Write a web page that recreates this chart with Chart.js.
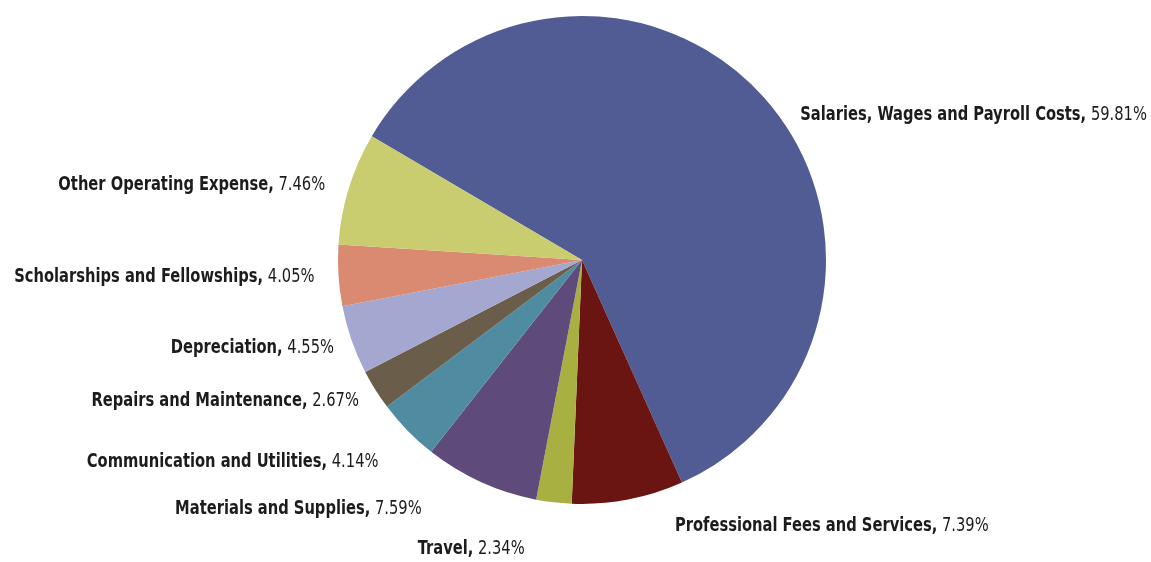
<!DOCTYPE html>
<html>
<head>
    <title>Expenses</title>
    <script src="https://cdn.jsdelivr.net/npm/chart.js"></script>
    <style>
        body { margin: 0; background: #fff; }
        canvas { display: block; }
    </style>
</head>
<body>
<canvas id="pieChart" width="1151" height="562"></canvas>
<script>
    // categories and shares (percent), clockwise from the upper left
    const categories = [
        'Salaries, Wages and Payroll Costs',
        'Professional Fees and Services',
        'Travel',
        'Materials and Supplies',
        'Communication and Utilities',
        'Repairs and Maintenance',
        'Depreciation',
        'Scholarships and Fellowships',
        'Other Operating Expense'
    ];
    const shares = [59.81, 7.39, 2.34, 7.59, 4.14, 2.67, 4.55, 4.05, 7.46];
    const shareLabels = ['59.81%', '7.39%', '2.34%', '7.59%', '4.14%', '2.67%', '4.55%', '4.05%', '7.46%'];

    const colors = ['#505c93', '#6a1511', '#a7b041', '#5e4b7b', '#4f8ba1',
                    '#6a5e4b', '#a4a7d0', '#d98a70', '#c9cc6f'];

    // label placement: offset from the slice's outer midpoint, and text alignment
    const labelLayout = [
        { dx: 29, dy: 25, align: 'left' },
        { dx: 45, dy: 17, align: 'left' },
        { dx: -28, dy: 37, align: 'right' },
        { dx: -55, dy: 18, align: 'right' },
        { dx: -22, dy: 24, align: 'right' },
        { dx: -8, dy: 6, align: 'right' },
        { dx: -8, dy: 5, align: 'right' },
        { dx: -14, dy: 1, align: 'right' },
        { dx: -14, dy: 0, align: 'right' }
    ];

    const FONT = '"Liberation Sans Narrow", "DejaVu Sans Condensed", sans-serif';
    const SIZE = 19;
    const SQUEEZE = 0.86; // condensed look of the original typeface

    const sliceLabels = {
        id: 'sliceLabels',
        afterDatasetsDraw(chart) {
            const ctx = chart.ctx;
            const meta = chart.getDatasetMeta(0);
            ctx.save();
            ctx.textBaseline = 'middle';
            ctx.textAlign = 'left';
            ctx.fillStyle = '#1c1c1c';
            meta.data.forEach((arc, i) => {
                const mid = (arc.startAngle + arc.endAngle) / 2;
                const r = arc.outerRadius + 10;
                const lay = labelLayout[i];
                const x = arc.x + Math.cos(mid) * r + lay.dx;
                const y = arc.y + Math.sin(mid) * r + lay.dy;
                const bold = categories[i] + ',';
                const rest = ' ' + shareLabels[i];
                ctx.font = 'bold ' + SIZE + 'px ' + FONT;
                const wb = ctx.measureText(bold).width;
                ctx.font = SIZE + 'px ' + FONT;
                const wr = ctx.measureText(rest).width;
                const total = (wb + wr) * SQUEEZE;
                const x0 = lay.align === 'left' ? x : x - total;
                ctx.save();
                ctx.translate(x0, y);
                ctx.scale(SQUEEZE, 1);
                ctx.font = 'bold ' + SIZE + 'px ' + FONT;
                ctx.fillText(bold, 0, 0);
                ctx.font = SIZE + 'px ' + FONT;
                ctx.fillText(rest, wb, 0);
                ctx.restore();
            });
            ctx.restore();
        }
    };

    const ctx = document.getElementById('pieChart').getContext('2d');
    new Chart(ctx, {
        type: 'pie',
        data: {
            labels: categories,
            datasets: [{
                data: shares,
                backgroundColor: colors,
                borderWidth: 0
            }]
        },
        options: {
            responsive: false,
            animation: false,
            rotation: -59.5,
            layout: { padding: { top: 16, bottom: 58, left: 338, right: 325 } },
            plugins: {
                legend: { display: false },
                tooltip: { enabled: false }
            }
        },
        plugins: [sliceLabels]
    });
</script>
</body>
</html>
